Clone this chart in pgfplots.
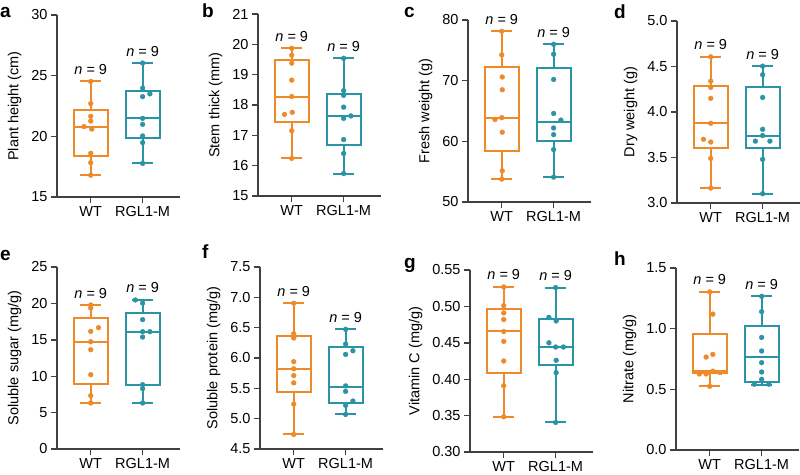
\documentclass[border=0pt]{standalone}
\usepackage{pgfplots}
\pgfplotsset{compat=1.18}
\usepackage{fontspec}
\setmainfont{Liberation Sans}

\definecolor{wtc}{HTML}{EF8A2A}
\definecolor{rglc}{HTML}{2A93A5}
\definecolor{axc}{HTML}{404040}
\newcommand{\fs}{\fontsize{14.5}{17}\selectfont}
\newcommand{\nn}{\textit{n} = 9}

\pgfplotsset{
  panel/.style={
    scale only axis, width=123pt, height=182pt,
    axis x line=bottom, axis y line=left,
    axis line style={-, line width=1.4pt, color=axc},
    xmin=-0.65, xmax=1.72,
    xtick={0,1}, xticklabels={WT,RGL1-M},
    tick style={line width=1.4pt, color=axc},
    major tick length=6pt, tick align=outside,
    ticklabel style={font=\fs},
    ylabel style={font=\fs, yshift=3pt},
    /pgf/number format/assume math mode=true,
    clip=false,
  },
  wtdot/.style={only marks, mark=*, mark size=2.4pt, color=wtc},
  rgldot/.style={only marks, mark=*, mark size=2.4pt, color=rglc},
  bxline/.style={line width=2pt, line cap=rect, line join=miter},
}

% box and whiskers: colour, position, min, q1, median, q3, max
\newcommand{\bx}[7]{%
  \pgfmathsetmacro{\bl}{#2-0.33}\pgfmathsetmacro{\br}{#2+0.33}%
  \pgfmathsetmacro{\cl}{#2-0.18}\pgfmathsetmacro{\cr}{#2+0.18}%
  \addplot[#1, bxline] coordinates {(#2,#3)(#2,#4)};
  \addplot[#1, bxline] coordinates {(#2,#6)(#2,#7)};
  \addplot[#1, bxline] coordinates {(\cl,#3)(\cr,#3)};
  \addplot[#1, bxline] coordinates {(\cl,#7)(\cr,#7)};
  \addplot[#1, bxline, fill=white] coordinates {(\bl,#4)(\br,#4)(\br,#6)(\bl,#6)} -- cycle;
  \addplot[#1, bxline] coordinates {(\bl,#5)(\br,#5)};
}

\begin{document}
\begin{tikzpicture}
\path[use as bounding box] (0pt,-474pt) rectangle (800pt,0pt);

% a
\begin{axis}[panel, at={(57pt,-197pt)}, anchor=south west,
  ymin=15, ymax=30, ytick={15,20,25,30}, ylabel={Plant height (cm)}]
\bx{wtc}{0}{16.8}{18.35}{20.8}{22.14}{24.53}
\bx{rglc}{1}{17.77}{19.84}{21.48}{23.71}{26.04}
\addplot[wtdot] coordinates {(0,24.53)(0,22.7)(0,21.65)(0,21.26)(-0.13,20.8)(0.02,20.6)(0,18.6)(0,17.83)(0,16.8)};
\addplot[rgldot] coordinates {(1,26.04)(1,23.98)(1,23.27)(1.14,23.5)(1,21.48)(1,20.99)(1,20.03)(1,19.48)(1,17.77)};
\node[font=\fs, anchor=base, yshift=7pt] at (axis cs:0,24.53) {\nn};
\node[font=\fs, anchor=base, yshift=7pt] at (axis cs:1,26.04) {\nn};
\end{axis}

% b
\begin{axis}[panel, at={(258pt,-196pt)}, anchor=south west,
  ymin=15, ymax=21, ytick={15,16,...,21}, ylabel={Stem thick (mm)}]
\bx{wtc}{0}{16.24}{17.45}{18.28}{19.49}{19.87}
\bx{rglc}{1}{15.74}{16.67}{17.64}{18.35}{19.54}
\addplot[wtdot] coordinates {(0,19.87)(0,19.64)(0,19.38)(0,18.82)(0,18.28)(0.01,17.76)(-0.14,17.69)(0,17.15)(0,16.24)};
\addplot[rgldot] coordinates {(1,19.54)(1,18.47)(1,18.32)(1,17.93)(1,17.56)(1.14,17.64)(1,16.86)(1,16.40)(1,15.74)};
\node[font=\fs, anchor=base, yshift=7pt] at (axis cs:0,19.87) {\nn};
\node[font=\fs, anchor=base, yshift=7pt] at (axis cs:1,19.54) {\nn};
\end{axis}

% c
\begin{axis}[panel, at={(468pt,-202pt)}, anchor=south west,
  ymin=50, ymax=80, ytick={50,60,70,80}, ylabel={Fresh weight (g)}]
\bx{wtc}{0}{53.78}{58.43}{63.91}{72.23}{78.14}
\bx{rglc}{1}{54.1}{60.13}{63.2}{72.12}{76.0}
\addplot[wtdot] coordinates {(0,78.14)(0,74.25)(0.01,70.6)(0.01,68.5)(0,63.9)(-0.13,63.6)(0.01,61.5)(0.01,55.15)(0,53.78)};
\addplot[rgldot] coordinates {(1,76.0)(1,74.36)(1,70.2)(1,64.6)(1.14,63.5)(1,62.2)(1,61.1)(1,58.65)(1,54.1)};
\node[font=\fs, anchor=base, yshift=7pt] at (axis cs:0,78.14) {\nn};
\node[font=\fs, anchor=base, yshift=7pt] at (axis cs:1,76.0) {\nn};
\end{axis}

% d
\begin{axis}[panel, at={(677pt,-203pt)}, anchor=south west,
  ymin=3, ymax=5, ytick={3,3.5,4,4.5,5}, ylabel={Dry weight (g)},
  yticklabel style={/pgf/number format/fixed, /pgf/number format/fixed zerofill, /pgf/number format/precision=1}]
\bx{wtc}{0}{3.164}{3.60}{3.876}{4.29}{4.606}
\bx{rglc}{1}{3.102}{3.60}{3.741}{4.274}{4.504}
\addplot[wtdot] coordinates {(0,4.606)(0,4.34)(0,4.27)(0,4.15)(0,3.876)(-0.14,3.70)(0,3.67)(0,3.49)(0,3.164)};
\addplot[rgldot] coordinates {(1,4.504)(1,4.41)(1,4.16)(1,3.81)(1,3.741)(0.86,3.68)(1.14,3.68)(1,3.48)(1,3.102)};
\node[font=\fs, anchor=base, yshift=7pt] at (axis cs:0,4.606) {\nn};
\node[font=\fs, anchor=base, yshift=7pt] at (axis cs:1,4.504) {\nn};
\end{axis}

% e
\begin{axis}[panel, at={(57pt,-449pt)}, anchor=south west,
  ymin=0, ymax=25, ytick={0,5,...,25}, ylabel={Soluble sugar (mg/g)}]
\bx{wtc}{0}{6.32}{8.93}{14.74}{17.95}{19.78}
\bx{rglc}{1}{6.32}{8.75}{16.12}{18.73}{20.47}
\addplot[wtdot] coordinates {(0,19.78)(0,19.37)(0.15,16.67)(0,16.16)(0,14.74)(0,13.64)(0,10.21)(0,7.33)(0,6.32)};
\addplot[rgldot] coordinates {(0.86,20.47)(1,20.05)(1,17.77)(1,16.12)(1.14,16.12)(1,15.38)(1,8.84)(1,8.29)(1,6.32)};
\node[font=\fs, anchor=base, yshift=7pt] at (axis cs:0,19.78) {\nn};
\node[font=\fs, anchor=base, yshift=7pt] at (axis cs:1,20.47) {\nn};
\end{axis}

% f
\begin{axis}[panel, at={(260pt,-449pt)}, anchor=south west,
  ymin=4.5, ymax=7.5, ytick={4.5,5,5.5,6,6.5,7,7.5}, ylabel={Soluble protein (mg/g)},
  yticklabel style={/pgf/number format/fixed, /pgf/number format/fixed zerofill, /pgf/number format/precision=1}]
\bx{wtc}{0}{4.74}{5.434}{5.822}{6.363}{6.904}
\bx{rglc}{1}{5.07}{5.265}{5.516}{6.183}{6.473}
\addplot[wtdot] coordinates {(0,6.904)(0,6.40)(0,6.33)(0,5.94)(0,5.822)(0,5.71)(0,5.59)(0,5.24)(0,4.74)};
\addplot[rgldot] coordinates {(1,6.473)(1,6.23)(1,6.06)(1.14,6.12)(1,5.54)(1,5.45)(1.14,5.29)(1,5.22)(1,5.07)};
\node[font=\fs, anchor=base, yshift=7pt] at (axis cs:0,6.904) {\nn};
\node[font=\fs, anchor=base, yshift=7pt] at (axis cs:1,6.473) {\nn};
\end{axis}

% g
\begin{axis}[panel, at={(470pt,-452pt)}, anchor=south west,
  ymin=0.3, ymax=0.55, ytick={0.3,0.35,0.4,0.45,0.5,0.55}, ylabel={Vitamin C (mg/g)},
  yticklabel style={/pgf/number format/fixed, /pgf/number format/fixed zerofill, /pgf/number format/precision=2}]
\bx{wtc}{0}{0.3484}{0.4086}{0.4656}{0.4962}{0.5267}
\bx{rglc}{1}{0.3406}{0.42}{0.4442}{0.4825}{0.5258}
\addplot[wtdot] coordinates {(0,0.5267)(0,0.501)(0,0.491)(0,0.482)(0,0.4656)(0,0.452)(0,0.425)(0,0.391)(0,0.3484)};
\addplot[rgldot] coordinates {(1,0.5258)(0.87,0.485)(1.01,0.480)(0.87,0.450)(1,0.4442)(1.15,0.4442)(1.01,0.426)(1.01,0.409)(1,0.3406)};
\node[font=\fs, anchor=base, yshift=7pt] at (axis cs:0,0.5267) {\nn};
\node[font=\fs, anchor=base, yshift=7pt] at (axis cs:1,0.5258) {\nn};
\end{axis}

% h
\begin{axis}[panel, at={(676pt,-450pt)}, anchor=south west,
  ymin=0, ymax=1.5, ytick={0,0.5,1,1.5}, ylabel={Nitrate (mg/g)},
  yticklabel style={/pgf/number format/fixed, /pgf/number format/fixed zerofill, /pgf/number format/precision=1}]
\bx{wtc}{0}{0.525}{0.638}{0.649}{0.955}{1.303}
\bx{rglc}{1}{0.539}{0.564}{0.769}{1.018}{1.267}
\addplot[wtdot] coordinates {(0,1.303)(0.06,1.12)(0.06,0.788)(-0.07,0.766)(-0.2,0.627)(-0.07,0.627)(0.06,0.65)(0.2,0.638)(0,0.525)};
\addplot[rgldot] coordinates {(1,1.267)(1,1.14)(1,0.928)(1,0.816)(1,0.720)(1,0.643)(1,0.583)(0.86,0.542)(1.14,0.542)};
\node[font=\fs, anchor=base, yshift=7pt] at (axis cs:0,1.303) {\nn};
\node[font=\fs, anchor=base, yshift=7pt] at (axis cs:1,1.267) {\nn};
\end{axis}

% panel letters
\begin{scope}[every node/.style={anchor=base west, inner sep=0pt, font=\fontsize{19}{21}\selectfont\bfseries}]
\node at (0pt,-17pt) {a};
\node at (202pt,-17pt) {b};
\node at (404pt,-17pt) {c};
\node at (614pt,-18pt) {d};
\node at (0pt,-260pt) {e};
\node at (202pt,-258pt) {f};
\node at (404pt,-268pt) {g};
\node at (614pt,-265pt) {h};
\end{scope}
\end{tikzpicture}
\end{document}
